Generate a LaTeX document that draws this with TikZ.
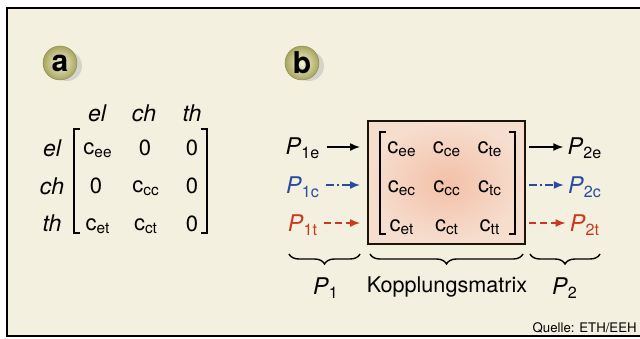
\documentclass[tikz,border=0pt]{standalone}
\usepackage{fontspec}
\setmainfont{TeX Gyre Heros}
\setsansfont{TeX Gyre Heros}
\usetikzlibrary{arrows.meta, positioning, decorations.pathreplacing, shadows, calc}
\definecolor{PaperCream}{RGB}{243, 240, 223}
\definecolor{BallLight}{RGB}{246, 244, 212}
\definecolor{BallOlive}{RGB}{168, 165, 95}
\definecolor{FlowBlue}{RGB}{40, 75, 160}
\definecolor{FlowRed}{RGB}{205, 55, 30}
\definecolor{BoxSalmon}{RGB}{243, 192, 168}
\definecolor{BoxLight}{RGB}{246, 222, 206}
\tikzset{
  ball/.style={circle, minimum size=17pt, inner sep=0pt, shading=radial,
               inner color=BallLight, outer color=BallOlive, draw=BallOlive!80!black, line width=0.2pt,
               font=\fontsize{15}{15}\selectfont\bfseries},
  ent/.style={font=\fontsize{11}{12}\selectfont, inner sep=1pt},
  lbl/.style={font=\fontsize{11.5}{12}\selectfont\itshape, inner sep=1pt},
  pwr/.style={font=\fontsize{11.5}{12}\selectfont, inner sep=1pt, text=#1},
  arr/.style={-{Latex[length=5pt, width=4pt]}, line width=0.75pt, color=#1},
  brk/.style={line width=0.8pt},
  brc/.style={decorate, decoration={brace, mirror, amplitude=5pt}, line width=0.7pt},
}
\newcommand{\cc}[1]{c\textsubscript{#1}}
\newcommand{\pp}[1]{\textit{P}\textsubscript{#1}}
\begin{document}
\begin{tikzpicture}[x=0.5pt, y=-0.5pt]
  \useasboundingbox (0,0) rectangle (640,338);
  % paper and frame
  \fill[PaperCream] (7,8) rectangle (640,336);
  \draw[line width=0.8pt] (640,8) -- (7,8) -- (7,336) -- (640,336);

  % part a
  \fill[black!30, opacity=0.45] (67,66) circle (7.5pt);
  \node[ball] (ba) at (60,63) {a};

  \node[lbl] (hel) at (97,113) {el};
  \node[lbl] (hch) at (144,113) {ch};
  \node[lbl] (hth) at (192,113) {th};
  \node[lbl] (rel) at (52,148) {el};
  \node[lbl] (rch) at (52,186) {ch};
  \node[lbl] (rth) at (52,223) {th};

  \node[ent] (aee) at (98,150) {\cc{ee}};
  \node[ent] (a12) at (145,148) {0};
  \node[ent] (a13) at (192,148) {0};
  \node[ent] (a21) at (96,186) {0};
  \node[ent] (acc) at (146,188) {\cc{cc}};
  \node[ent] (a23) at (192,186) {0};
  \node[ent] (aet) at (98,226) {\cc{et}};
  \node[ent] (act) at (146,226) {\cc{ct}};
  \node[ent] (a33) at (192,224) {0};

  \draw[brk] (80,129) -- (74,129) -- (74,233) -- (80,233);
  \draw[brk] (201,129) -- (207,129) -- (207,233) -- (201,233);

  % part b
  \fill[black!30, opacity=0.45] (309,66) circle (7.5pt);
  \node[ball] (bb) at (302,63) {b};

  \node[draw=black!85!brown, line width=0.8pt, minimum width=78.5pt, minimum height=61.5pt,
        inner sep=0pt, shading=radial, inner color=BoxSalmon,
        outer color=BoxLight] (box) at (446.5,182.5) {};

  \node[ent] (cee) at (402,149) {\cc{ee}};
  \node[ent] (cce) at (447,149) {\cc{ce}};
  \node[ent] (cte) at (490,149) {\cc{te}};
  \node[ent] (cec) at (402,188) {\cc{ec}};
  \node[ent] (ccc) at (447,188) {\cc{cc}};
  \node[ent] (ctc) at (490,188) {\cc{tc}};
  \node[ent] (cet) at (402,227) {\cc{et}};
  \node[ent] (cct) at (447,227) {\cc{ct}};
  \node[ent] (ctt) at (490,227) {\cc{tt}};

  \draw[brk] (386,132) -- (380,132) -- (380,234) -- (386,234);
  \draw[brk] (509,132) -- (515,132) -- (515,234) -- (509,234);

  \node[pwr=black]    (p1e) at (303,148) {\pp{1e}};
  \node[pwr=FlowBlue] (p1c) at (303,187) {\pp{1c}};
  \node[pwr=FlowRed]  (p1t) at (303,225) {\pp{1t}};
  \node[pwr=black]    (p2e) at (585,148) {\pp{2e}};
  \node[pwr=FlowBlue] (p2c) at (585,187) {\pp{2c}};
  \node[pwr=FlowRed]  (p2t) at (585,225) {\pp{2t}};

  \coordinate (ie) at (360,147);
  \coordinate (ic) at (360,185);
  \coordinate (it) at (360,223);
  \coordinate (oe) at (529,147);
  \coordinate (oc) at (529,185);
  \coordinate (ot) at (529,223);

  \draw[arr=black] ($(ie -| p1e.east) + (4,0)$) -- (ie);
  \draw[arr=FlowBlue, dash pattern=on 4pt off 1.5pt on 1pt off 1.5pt]
       ($(ic -| p1c.east) + (4,0)$) -- (ic);
  \draw[arr=FlowRed, dash pattern=on 3.5pt off 2pt]
       ($(it -| p1t.east) + (4,0)$) -- (it);
  \draw[arr=black] (oe) -- ($(oe -| p2e.west) + (-2,0)$);
  \draw[arr=FlowBlue, dash pattern=on 4pt off 1.5pt on 1pt off 1.5pt]
       (oc) -- ($(oc -| p2c.west) + (-2,0)$);
  \draw[arr=FlowRed, dash pattern=on 3.5pt off 2pt]
       (ot) -- ($(ot -| p2t.west) + (-2,0)$);

  % braces
  \draw[brc] (289,254) -- (360,254);
  \draw[brc] (370,254) -- (523,254);
  \draw[brc] (530,254) -- (600,254);
  \node[pwr=black] (l1) at (326,288) {\textit{P}\textsubscript{1}};
  \node[font=\fontsize{10.8}{12}\selectfont, inner sep=1pt] (lk) at (447,287) {Kopplungsmatrix};
  \node[pwr=black] (l2) at (565,288) {\textit{P}\textsubscript{2}};

  \node[font=\fontsize{6.6}{7}\selectfont, anchor=east, inner sep=0pt] (src) at (637,328) {Quelle: ETH/EEH};
\end{tikzpicture}
\end{document}
